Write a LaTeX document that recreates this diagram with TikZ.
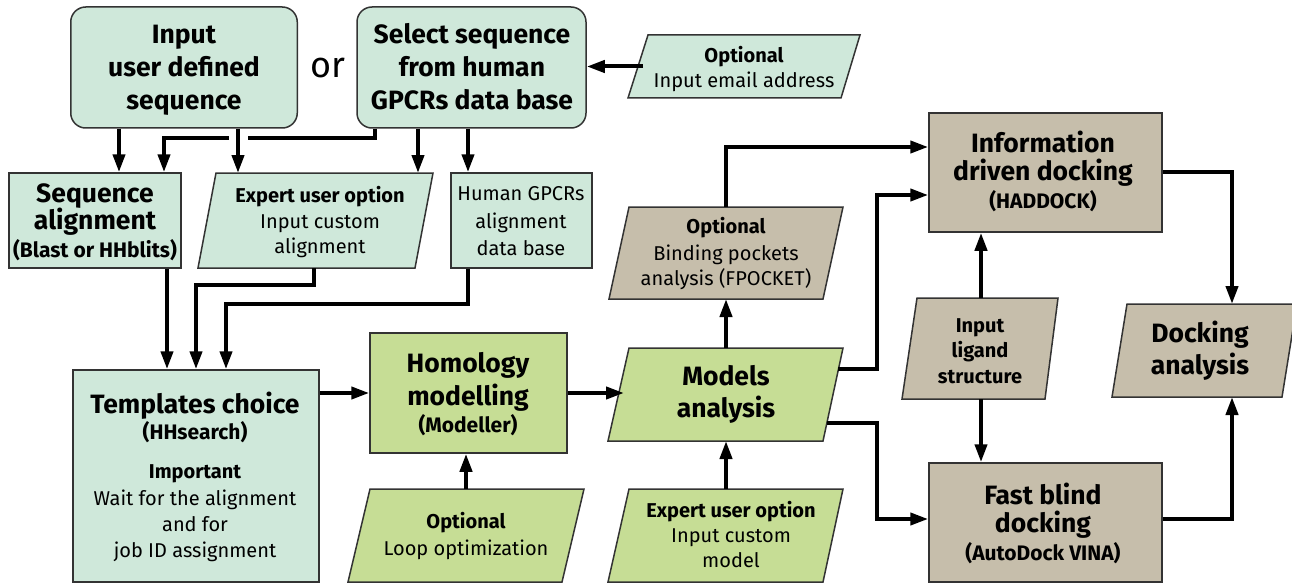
\documentclass[tikz,border=0pt]{standalone}
\usepackage{fontspec}
\setmainfont{Fira Sans}
\usetikzlibrary{arrows.meta}
\definecolor{mint}{HTML}{CFE8DA}
\definecolor{lgreen}{HTML}{C6DD95}
\definecolor{tanbox}{HTML}{C6BEAB}
\definecolor{edgecol}{HTML}{333333}
\newcommand{\para}[8]{%
  \fill[#1] (#2,#4) -- (#3,#4) -- (#6,#7) -- (#5,#7) -- cycle;
  \draw[edgecol, line width=1.5pt, line join=miter] (#2,#4) -- (#3,#4) -- (#6,#7) -- (#5,#7) -- cycle;
  \path (#2,#4) -- (#6,#7) coordinate[midway] (#8c);
}
\newcommand{\tl}[4]{\node[anchor=base, inner sep=0pt, #3] at (#1,#2) {#4};}
\begin{document}
\begin{tikzpicture}[x=1pt,y=-1pt,
  rbox/.style={draw=edgecol, line width=1.5pt, inner sep=0pt},
  anch/.style={inner sep=0pt, outer sep=0pt},
  big/.style={font=\bfseries\fontsize{26.5}{30}\selectfont},
  med/.style={font=\bfseries\fontsize{21}{24}\selectfont},
  smb/.style={font=\bfseries\fontsize{20}{23}\selectfont},
  sm/.style={font=\fontsize{20}{23}\selectfont},
  ln/.style={line width=4pt},
  arr/.style={line width=4pt, -{Triangle[length=18pt,width=12pt]}}]
\useasboundingbox (0,0) rectangle (1292,583);
\fill[white] (0,0) rectangle (1292,583);

% rectangles
\node[rbox, fill=mint, rounded corners=15pt, minimum width=226.5pt, minimum height=121pt] (input) at (184,67.5) {};
\node[rbox, fill=mint, rounded corners=15pt, minimum width=229pt, minimum height=121pt] (select) at (471.5,67.5) {};
\node[rbox, fill=mint, minimum width=172pt, minimum height=95pt] (seqal) at (95,220.5) {};
\node[rbox, fill=mint, minimum width=141pt, minimum height=95pt] (human) at (521.5,220.5) {};
\node[rbox, fill=mint, minimum width=246pt, minimum height=212pt] (templ) at (196,476) {};
\node[rbox, fill=lgreen, minimum width=197pt, minimum height=120pt] (homol) at (468.5,393) {};
\node[rbox, fill=tanbox, minimum width=233pt, minimum height=119pt] (info) at (1045.5,172.5) {};
\node[rbox, fill=tanbox, minimum width=233pt, minimum height=119pt] (fast) at (1045.5,522.5) {};

% parallelograms
\para{mint}{648}{860}{35}{628}{841}{98}{email}
\para{mint}{216}{433}{173}{198}{415}{268}{expA}
\para{lgreen}{370}{584}{489}{348}{562}{582}{loop}
\para{lgreen}{629}{843}{348}{608}{823}{441}{models}
\para{tanbox}{629}{843}{207}{609}{823}{299}{bind}
\para{lgreen}{629}{843}{489}{608}{823}{582}{expB}
\para{tanbox}{917}{1058}{298}{902}{1045}{399}{lig}
\para{tanbox}{1127}{1297}{304}{1112}{1282}{397}{dock}
\node[anch, minimum width=203pt, minimum height=63pt] (email) at (emailc) {};
\node[anch, minimum width=208pt, minimum height=95pt] (expA) at (expAc) {};
\node[anch, minimum width=204pt, minimum height=93pt] (loop) at (loopc) {};
\node[anch, minimum width=204pt, minimum height=93pt] (models) at (modelsc) {};
\node[anch, minimum width=204pt, minimum height=92pt] (bind) at (bindc) {};
\node[anch, minimum width=204pt, minimum height=93pt] (expB) at (expBc) {};
\node[anch, minimum width=134pt, minimum height=101pt] (lig) at (ligc) {};
\node[anch, minimum width=160pt, minimum height=93pt] (dock) at (dockc) {};
\coordinate (mr1) at (838,369);
\coordinate (mr2) at (827,423);

% texts
\tl{184}{44}{big}{Input}
\tl{184}{77}{big}{user defined}
\tl{184}{110}{big}{sequence}
\node[anchor=base, inner sep=0pt, font=\fontsize{36}{40}\selectfont] (or) at (327.5,78) {or};
\tl{472}{44}{big}{Select sequence}
\tl{472}{77}{big}{from human}
\tl{472}{110}{big}{GPCRs data base}
\tl{744}{63}{smb}{Optional}
\tl{744}{88}{sm}{Input email address}
\tl{95}{202}{big}{Sequence}
\tl{95}{229}{big}{alignment}
\tl{95}{257}{med}{(Blast or HHblits)}
\tl{320}{202}{smb}{Expert user option}
\tl{320}{228}{sm}{Input custom}
\tl{320}{253}{sm}{alignment}
\tl{521}{200}{sm}{Human GPCRs}
\tl{521}{228}{sm}{alignment}
\tl{521}{255}{sm}{data base}
\tl{195}{413}{big}{Templates choice}
\tl{195}{439}{med}{(HHsearch)}
\tl{195}{478}{smb}{Important}
\tl{195}{505}{sm}{Wait for the alignment}
\tl{195}{531}{sm}{and for}
\tl{195}{557}{sm}{job ID assignment}
\tl{468}{372}{big}{Homology}
\tl{468}{405}{big}{modelling}
\tl{468}{432}{med}{(Modeller)}
\tl{466}{528}{smb}{Optional}
\tl{466}{555}{sm}{Loop optimization}
\tl{726}{385}{big}{Models}
\tl{726}{417}{big}{analysis}
\tl{731}{517}{smb}{Expert user option}
\tl{731}{542}{sm}{Input custom}
\tl{731}{567}{sm}{model}
\tl{726}{233}{smb}{Optional}
\tl{726}{260}{sm}{Binding pockets}
\tl{726}{285}{sm}{analysis (FPOCKET)}
\tl{1043}{153}{big}{Information}
\tl{1043}{180}{big}{driven docking}
\tl{1043}{208}{med}{(HADDOCK)}
\tl{980}{332}{smb}{Input}
\tl{980}{357}{smb}{ligand}
\tl{980}{383}{smb}{structure}
\tl{1200}{342}{big}{Docking}
\tl{1200}{374}{big}{analysis}
\tl{1043}{504}{big}{Fast blind}
\tl{1043}{532}{big}{docking}
\tl{1043}{560}{med}{(AutoDock VINA)}

% connectors
\draw[arr] (119,0 |- input.south) -- (119,0 |- seqal.north);
\draw[arr] (375,0 |- select.south) -- (375,138) -- (164,138) -- (164,0 |- seqal.north);
\draw[white, line width=19pt] (238,133) -- (238,143);
\draw[arr] (238,0 |- input.south) -- (238,0 |- expA.north);
\draw[arr] (418,0 |- select.south) -- (418,0 |- expA.north);
\draw[arr] (468,0 |- select.south) -- (468,0 |- human.north);
\draw[arr] (email.west) -- (email.west -| select.east);
\draw[arr] (167,0 |- seqal.south) -- (167,0 |- templ.north);
\draw[arr] (314,0 |- expA.south) -- (314,285) -- (196,285) -- (196,0 |- templ.north);
\draw[arr] (468,0 |- human.south) -- (468,304) -- (226,304) -- (226,0 |- templ.north);
\draw[arr] (templ.east |- homol.west) -- (homol.west);
\draw[arr] (homol.east) -- (homol.east -| models.west);
\draw[arr] (loop.north) -- (loop.north |- homol.south);
\draw[arr] (expB.north) -- (expB.north |- models.south);
\draw[arr] (models.north) -- (models.north |- bind.south);
\draw[arr] (bind.north) -- (bind.north |- 0,147) -- (info.west |- 0,147);
\draw[arr] (mr1) -- (877,369) -- (877,195) -- (info.west |- 0,195);
\draw[arr] (mr2) -- (877,423) -- (877,519) -- (fast.west |- 0,519);
\draw[arr] (lig.north) -- (lig.north |- info.south);
\draw[arr] (lig.south) -- (lig.south |- fast.north);
\draw[arr] (info.east |- 0,172) -- (1232,172) -- (1232,0 |- dock.north);
\draw[arr] (fast.east |- 0,519) -- (1232,519) -- (1232,0 |- dock.south);
\end{tikzpicture}
\end{document}
